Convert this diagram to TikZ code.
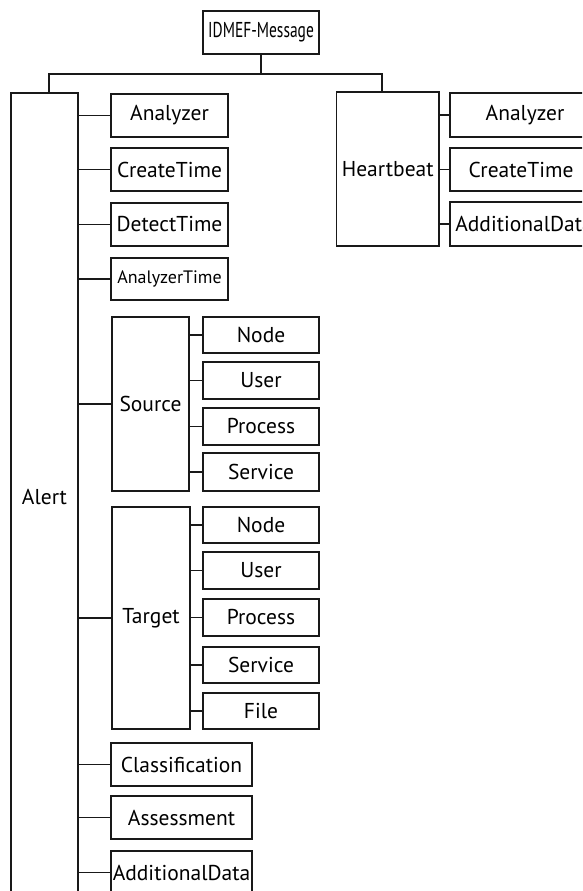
\documentclass[tikz,border=0pt]{standalone}
\usepackage{fontspec}
\setmainfont{PT Sans}
\usepackage{graphicx}
\begin{document}
\begin{tikzpicture}[x=1pt,y=-1pt,
  box/.style={draw=black!90, line width=1.5pt, inner sep=0pt, font=\fontsize{21.5}{24}\selectfont},
  conn/.style={draw=black!90, line width=1.5pt},
  smalltxt/.style={font=\fontsize{18}{20}\selectfont}]
\path[use as bounding box] (0,0) rectangle (582,891);
\clip (0,0) rectangle (582,891);
% root
\node[box, minimum width=116pt, minimum height=43pt] (msg) at (261,32.5) {\scalebox{0.72}[1]{IDMEF-Message}};
% Alert
\node[box, minimum width=67pt, minimum height=808pt] (alert) at (44.5,497) {Alert};
% Heartbeat
\node[box, minimum width=102.5pt, minimum height=154pt] (hb) at (387.75,169) {Heartbeat};
\node[box, minimum width=150pt, minimum height=44pt] (hbA) at (525,115) {Analyzer};
\node[box, minimum width=150pt, minimum height=43pt] (hbC) at (525,169.5) {\hspace*{-8pt}CreateTime};
\node[box, minimum width=150pt, minimum height=44pt] (hbD) at (525,224) {\hspace*{-2pt}AdditionalData};
% Alert children
\node[box, minimum width=117pt, minimum height=43pt] (aA) at (169.5,115.5) {Analyzer};
\node[box, minimum width=117pt, minimum height=43pt] (aC) at (169.5,169.5) {CreateTime};
\node[box, minimum width=117pt, minimum height=43pt] (aD) at (169.5,224.5) {DetectTime};
\node[box, smalltxt, minimum width=117pt, minimum height=42pt] (aT) at (169.5,279) {AnalyzerTime};
% Source
\node[box, minimum width=77pt, minimum height=174pt] (src) at (150.5,404) {Source};
\node[box, minimum width=116pt, minimum height=36pt] (sN) at (261,335) {Node};
\node[box, minimum width=116pt, minimum height=37pt] (sU) at (261,380.5) {User};
\node[box, minimum width=116pt, minimum height=37pt] (sP) at (261,426.5) {Process};
\node[box, minimum width=116pt, minimum height=38pt] (sS) at (261,472) {Service};
% Target
\node[box, minimum width=78pt, minimum height=222pt] (tgt) at (151,618) {Target};
\node[box, minimum width=116pt, minimum height=36pt] (tN) at (261,525) {Node};
\node[box, minimum width=116pt, minimum height=37pt] (tU) at (261,570.5) {User};
\node[box, minimum width=116pt, minimum height=37pt] (tP) at (261,617.5) {Process};
\node[box, minimum width=116pt, minimum height=36pt] (tS) at (261,665) {Service};
\node[box, minimum width=116pt, minimum height=36pt] (tF) at (261,711) {File};
% lower Alert children
\node[box, minimum width=141pt, minimum height=43pt] (aCl) at (181.5,764.5) {Classification};
\node[box, minimum width=141pt, minimum height=43pt] (aAs) at (181.5,817.5) {Assessment};
\node[box, minimum width=141pt, minimum height=43pt] (aAd) at (181.5,872.5) {AdditionalData};
% top tree
\draw[conn] (msg.south) -- ++(0,19) coordinate (j);
\draw[conn] ([xshift=4.5pt]alert.north) |- (j) -| ([xshift=-5.75pt]hb.north);
% Alert connectors
\foreach \b in {aA,aC,aD,aT,src,tgt,aCl,aAs,aAd}
  \draw[conn] (\b.west) -- (\b.west -| alert.east);
% Heartbeat connectors
\foreach \b in {hbA,hbC,hbD}
  \draw[conn] (\b.west) -- (\b.west -| hb.east);
% Source connectors
\foreach \b in {sN,sU,sP,sS}
  \draw[conn] (\b.west) -- (\b.west -| src.east);
% Target connectors
\foreach \b in {tN,tU,tP,tS,tF}
  \draw[conn] (\b.west) -- (\b.west -| tgt.east);
\end{tikzpicture}
\end{document}
